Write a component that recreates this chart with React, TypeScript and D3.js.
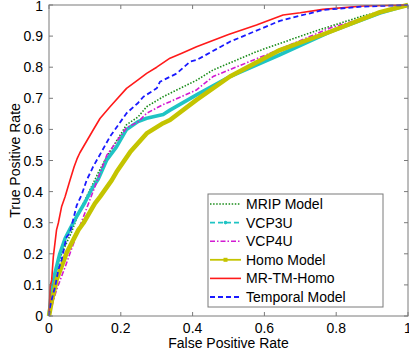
import React from 'react';
import * as d3 from 'd3';

// ROC points: [false positive rate, true positive rate]
const mripModel: [number, number][] = [
  [0, 0], [0.008, 0.09], [0.017, 0.13], [0.035, 0.2], [0.063, 0.27], [0.082, 0.33],
  [0.105, 0.384], [0.137, 0.46], [0.161, 0.512], [0.216, 0.615], [0.248, 0.64],
  [0.272, 0.673], [0.318, 0.705], [0.337, 0.716], [0.411, 0.758], [0.457, 0.791],
  [0.578, 0.85], [0.736, 0.914], [0.875, 0.965], [1, 1],
];
const vcp3u: [number, number][] = [
  [0, 0], [0.008, 0.09], [0.017, 0.14], [0.03, 0.2], [0.045, 0.25], [0.063, 0.29],
  [0.077, 0.32], [0.1, 0.365], [0.12, 0.41], [0.137, 0.44], [0.161, 0.502], [0.188, 0.544],
  [0.216, 0.6], [0.248, 0.625], [0.272, 0.636], [0.318, 0.648], [0.337, 0.662],
  [0.411, 0.711], [0.504, 0.77], [0.643, 0.84], [0.783, 0.914], [0.922, 0.974], [1, 1],
];
const vcp4u: [number, number][] = [
  [0, 0], [0.021, 0.084], [0.045, 0.158], [0.082, 0.277], [0.128, 0.416], [0.161, 0.517],
  [0.216, 0.605], [0.248, 0.624], [0.272, 0.652], [0.318, 0.68], [0.337, 0.689],
  [0.411, 0.727], [0.457, 0.77], [0.616, 0.845], [0.783, 0.926], [1, 1],
];
const homoModel: [number, number][] = [
  [0, 0], [0.008, 0.05], [0.017, 0.094], [0.021, 0.116], [0.045, 0.19], [0.049, 0.203],
  [0.082, 0.277], [0.096, 0.299], [0.128, 0.362], [0.142, 0.383], [0.175, 0.437],
  [0.188, 0.463], [0.226, 0.527], [0.272, 0.587], [0.318, 0.62], [0.337, 0.63],
  [0.411, 0.695], [0.504, 0.77], [0.643, 0.855], [0.783, 0.914], [0.922, 0.977], [1, 1],
];
const mrTmHomo: [number, number][] = [
  [0, 0], [0.003, 0.094], [0.0075, 0.116], [0.012, 0.19], [0.021, 0.277], [0.026, 0.299],
  [0.035, 0.351], [0.045, 0.384], [0.058, 0.435], [0.07, 0.48], [0.078, 0.505],
  [0.086, 0.525], [0.123, 0.598], [0.142, 0.635], [0.17, 0.673], [0.216, 0.732],
  [0.248, 0.759], [0.272, 0.78], [0.3, 0.8], [0.337, 0.829], [0.37, 0.845],
  [0.411, 0.866], [0.44, 0.879], [0.5, 0.905], [0.578, 0.936], [0.652, 0.968],
  [0.7, 0.975], [0.763, 0.986], [0.875, 0.997], [1, 1],
];
const temporalModel: [number, number][] = [
  [0, 0], [0.003, 0.03], [0.012, 0.074], [0.017, 0.094], [0.026, 0.148], [0.035, 0.18],
  [0.049, 0.254], [0.058, 0.266], [0.077, 0.355], [0.091, 0.39], [0.105, 0.437],
  [0.123, 0.48], [0.17, 0.577], [0.216, 0.652], [0.248, 0.685], [0.263, 0.705],
  [0.3, 0.732], [0.309, 0.753], [0.356, 0.78], [0.393, 0.818], [0.411, 0.823],
  [0.504, 0.882], [0.643, 0.949], [0.763, 0.984], [0.875, 0.995], [1, 1],
];

const seriesNames = ['MRIP Model', 'VCP3U', 'VCP4U', 'Homo Model', 'MR-TM-Homo', 'Temporal Model'];
const tickValues = [0, 0.1, 0.2, 0.3, 0.4, 0.5, 0.6, 0.7, 0.8, 0.9, 1];
const xTickValues = [0, 0.2, 0.4, 0.6, 0.8, 1];

const series = [
  { name: seriesNames[0], data: mripModel, color: '#1a8c1a', width: 1.6, dash: '1.5,1.6', legendDash: '1.5,1.6', marker: '' },
  { name: seriesNames[1], data: vcp3u, color: '#1fc4c4', width: 3.6, dash: '', legendDash: '5,3', marker: 'dot' },
  { name: seriesNames[2], data: vcp4u, color: '#d21ad2', width: 1.6, dash: '5,2,1.5,2', legendDash: '5,2,1.5,2', marker: '' },
  { name: seriesNames[3], data: homoModel, color: '#c4c400', width: 4.5, dash: '', legendDash: '', marker: 'square' },
  { name: seriesNames[4], data: mrTmHomo, color: '#ff1a1a', width: 1.6, dash: '', legendDash: '', marker: '' },
  { name: seriesNames[5], data: temporalModel, color: '#1a1aff', width: 1.8, dash: '5,3', legendDash: '5,3', marker: '' },
];

const W = 409;
const H = 358;
const left = 49;
const right = 408;
const top = 5;
const bottom = 316;
const font = '"Liberation Sans", Arial, sans-serif';
const axisColor = '#7a7a7a';

export default function App() {
  const x = d3.scaleLinear().domain([0, 1]).range([left, right]);
  const y = d3.scaleLinear().domain([0, 1]).range([bottom, top]);
  const line = d3.line<[number, number]>().x(d => x(d[0])).y(d => y(d[1]));

  const legendX = 208;
  const legendY = 194;
  const legendW = 175;
  const legendH = 113;
  const rowH = 18.6;

  return (
    <svg width={W} height={H} style={{ position: 'absolute', left: 0, top: 0, background: '#fff' }} fontFamily={font}>
      <rect x={0} y={0} width={W} height={H} fill="#fff" />
      <defs>
        <clipPath id="plotClip">
          <rect x={left - 3} y={top - 3} width={right - left + 6} height={bottom - top + 6} />
        </clipPath>
      </defs>
      <g clipPath="url(#plotClip)">
        {series.map(s => (
          <path
            key={s.name}
            d={line(s.data) || ''}
            fill="none"
            stroke={s.color}
            strokeWidth={s.width}
            strokeDasharray={s.dash || undefined}
            strokeLinejoin="round"
          />
        ))}
      </g>

      {/* axes box */}
      <rect x={left} y={top} width={right - left} height={bottom - top} fill="none" stroke={axisColor} strokeWidth={1} />
      {xTickValues.map(t => (
        <g key={'x' + t}>
          <line x1={x(t)} x2={x(t)} y1={bottom} y2={bottom - 4} stroke={axisColor} />
          <line x1={x(t)} x2={x(t)} y1={top} y2={top + 4} stroke={axisColor} />
          <text x={x(t)} y={332.5} textAnchor="middle" fontSize={14} fill="#000">{d3.format('~g')(t)}</text>
        </g>
      ))}
      {tickValues.map(t => (
        <g key={'y' + t}>
          <line x1={left} x2={left + 4} y1={y(t)} y2={y(t)} stroke={axisColor} />
          <line x1={right} x2={right - 4} y1={y(t)} y2={y(t)} stroke={axisColor} />
          <text x={43} y={Math.max(y(t) + 5, 10.5)} textAnchor="end" fontSize={14} fill="#000">{d3.format('~g')(t)}</text>
        </g>
      ))}
      <text x={(left + right) / 2} y={348} textAnchor="middle" fontSize={14} fill="#000">False Positive Rate</text>
      <text transform={`translate(20,${(top + bottom) / 2}) rotate(-90)`} textAnchor="middle" fontSize={14} fill="#000">True Positive Rate</text>

      {/* legend */}
      <rect x={legendX} y={legendY} width={legendW} height={legendH} fill="#fff" stroke={axisColor} strokeWidth={1} />
      {series.map((s, i) => {
        const cy = legendY + 10 + i * rowH;
        return (
          <g key={'lg' + s.name}>
            <line x1={210} x2={241} y1={cy} y2={cy} stroke={s.color} strokeWidth={s.marker ? 1.8 : s.width > 2 ? 1.6 : s.width} strokeDasharray={s.legendDash || undefined} />
            {s.marker === 'dot' && <circle cx={225.5} cy={cy} r={1.8} fill={s.color} />}
            {s.marker === 'square' && <rect x={223.5} y={cy - 2} width={4} height={4} fill={s.color} />}
            <text x={246} y={cy + 5} fontSize={14} fill="#000">{s.name}</text>
          </g>
        );
      })}
    </svg>
  );
}
